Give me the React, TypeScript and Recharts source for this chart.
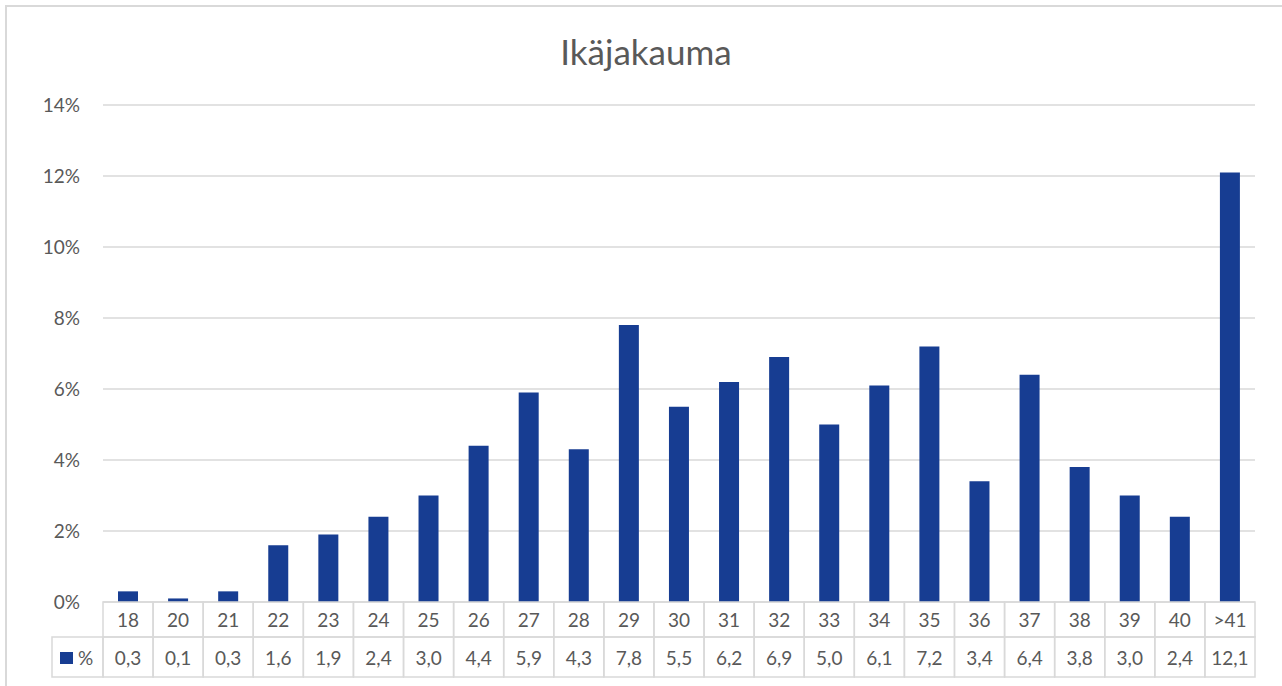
import React from "react";
import { BarChart, Bar, XAxis, YAxis, CartesianGrid, Customized } from "recharts";

const categories = ["18", "20", "21", "22", "23", "24", "25", "26", "27", "28", "29", "30", "31", "32", "33", "34", "35", "36", "37", "38", "39", "40", ">41"];
const values = [0.3, 0.1, 0.3, 1.6, 1.9, 2.4, 3.0, 4.4, 5.9, 4.3, 7.8, 5.5, 6.2, 6.9, 5.0, 6.1, 7.2, 3.4, 6.4, 3.8, 3.0, 2.4, 12.1];
const yTicks = [0, 2, 4, 6, 8, 10, 12, 14];
const seriesName = "%";
const title = "Ikäjakauma";

const data = categories.map((c, i) => ({ cat: c, value: values[i] }));

const W = 1282;
const H = 686;
const PLOT_LEFT = 103;
const PLOT_RIGHT = 1255;
const CELL_W = (PLOT_RIGHT - PLOT_LEFT) / categories.length;
const ROW1_H = 35;
const ROW2_H = 40;
const LEGEND_W = 51;
const FONT = "Lato, 'Open Sans', sans-serif";
const TEXT = "#595959";
const GRID = "#d9d9d9";
const BAR = "#173d92";

const fmt = (v: number) => v.toFixed(1).replace(".", ",");

const TableTick = (props: any) => {
  const { x, y, payload, index } = props;
  const left = x - CELL_W / 2;
  return (
    <g>
      <rect x={left} y={y} width={CELL_W} height={ROW1_H} fill="none" stroke={GRID} strokeWidth={1.5} />
      <rect x={left} y={y + ROW1_H} width={CELL_W} height={ROW2_H} fill="none" stroke={GRID} strokeWidth={1.5} />
      <text x={x} y={y + ROW1_H / 2} textAnchor="middle" dominantBaseline="central" fill={TEXT} fontSize={19} fontFamily={FONT}>
        {payload.value}
      </text>
      <text x={x} y={y + ROW1_H + ROW2_H / 2} textAnchor="middle" dominantBaseline="central" fill={TEXT} fontSize={19} fontFamily={FONT}>
        {fmt(values[index])}
      </text>
      {index === 0 && (
        <g>
          <rect x={left - LEGEND_W} y={y + ROW1_H} width={LEGEND_W} height={ROW2_H} fill="none" stroke={GRID} strokeWidth={1.5} />
          <rect x={left - LEGEND_W + 8} y={y + ROW1_H + 15} width={13} height={12} fill={BAR} />
          <text x={left - LEGEND_W + 26} y={y + ROW1_H + ROW2_H / 2} textAnchor="start" dominantBaseline="central" fill={TEXT} fontSize={19} fontFamily={FONT}>
            {seriesName}
          </text>
        </g>
      )}
    </g>
  );
};

const Frame = () => (
  <g>
    <rect x={6} y={6} width={W + 20} height={H + 20} fill="none" stroke={GRID} strokeWidth={2} />
    <text x={646} y={51} textAnchor="middle" dominantBaseline="central" fill={TEXT} fontSize={35} fontFamily={FONT}>
      {title}
    </text>
  </g>
);

export default function App() {
  return (
    <div style={{ position: "absolute", left: 0, top: 0, width: W, height: H, background: "#fff" }}>
      <BarChart
        width={W}
        height={H}
        data={data}
        margin={{ top: 105, right: W - PLOT_RIGHT, bottom: 9, left: 0 }}
        barCategoryGap={0}
      >
        <Customized component={Frame} />
        <CartesianGrid vertical={false} stroke={GRID} strokeWidth={1.5} />
        <YAxis
          width={PLOT_LEFT}
          domain={[0, 14]}
          ticks={yTicks}
          tickFormatter={(v: number) => `${v}%`}
          axisLine={false}
          tickLine={false}
          tickSize={0}
          tickMargin={23}
          tick={{ fill: TEXT, fontSize: 19, fontFamily: FONT }}
          interval={0}
        />
        <XAxis
          dataKey="cat"
          height={75}
          axisLine={false}
          tickLine={false}
          tickSize={0}
          tickMargin={0}
          interval={0}
          tick={<TableTick />}
        />
        <Bar dataKey="value" fill={BAR} barSize={20} isAnimationActive={false} />
      </BarChart>
    </div>
  );
}
